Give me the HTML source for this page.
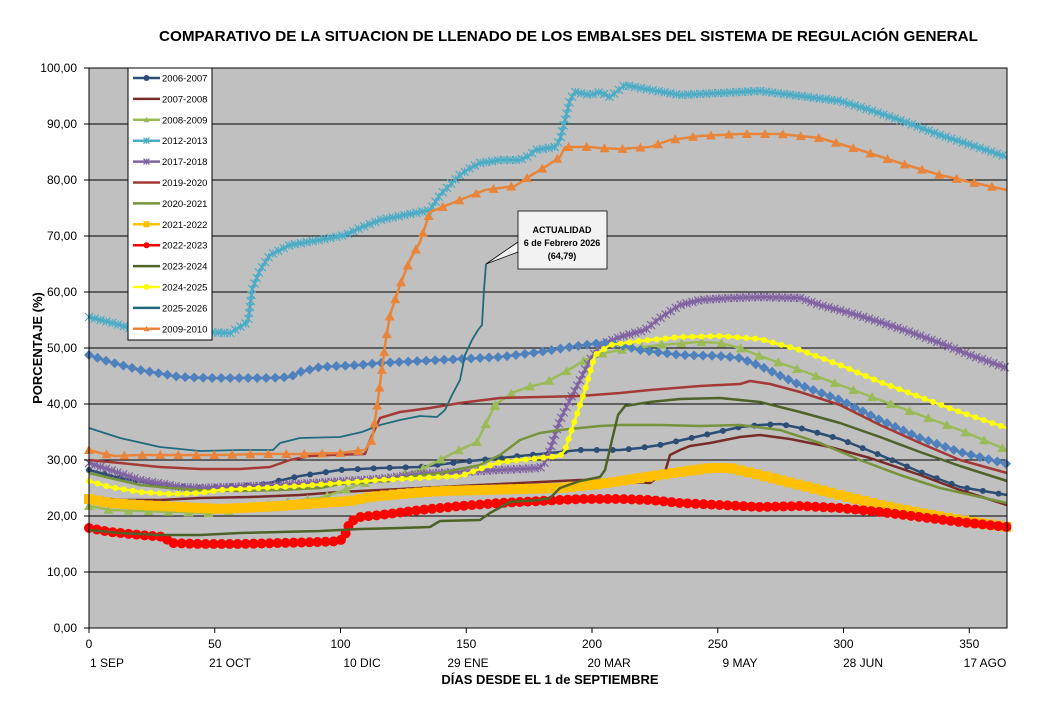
<!DOCTYPE html>
<html><head><meta charset="utf-8"><style>
body{margin:0;background:#fff;}
svg{display:block;font-family:"Liberation Sans",Arial,sans-serif;}
</style></head><body>
<svg id="s" width="1047" height="710" viewBox="0 0 1047 710" xmlns="http://www.w3.org/2000/svg">
<rect x="0" y="0" width="1047" height="710" fill="#fff"/>
<text x="159" y="41" font-size="15" font-weight="bold" textLength="819" lengthAdjust="spacingAndGlyphs">COMPARATIVO DE LA SITUACION DE LLENADO DE LOS EMBALSES DEL SISTEMA DE REGULACIÓN GENERAL</text>
<rect x="89" y="68" width="918" height="560" fill="#C0C0C0"/>
<g id="grid" stroke="#000" stroke-width="1"></g>
<g id="ser"></g>
<rect x="89" y="68" width="918" height="560" fill="none" stroke="#000" stroke-width="1"/>
<g id="ticks" font-size="12" fill="#000"></g>
<text transform="translate(42,348) rotate(-90)" text-anchor="middle" font-size="13" font-weight="bold">PORCENTAJE (%)</text>
<text x="550" y="684" text-anchor="middle" font-size="13" font-weight="bold">DÍAS DESDE EL 1 de SEPTIEMBRE</text>
<g id="leg"></g>
<polygon points="486,264 518,252 518,242" fill="#f2f2f2" stroke="#000" stroke-width="0.8"/>
<rect x="518" y="211" width="89" height="58" fill="#f2f2f2" stroke="#000" stroke-width="0.8"/>
<text x="562" y="233" text-anchor="middle" font-size="9" font-weight="bold">ACTUALIDAD</text>
<text x="562" y="246" text-anchor="middle" font-size="9" font-weight="bold">6 de Febrero 2026</text>
<text x="562" y="259" text-anchor="middle" font-size="9" font-weight="bold">(64,79)</text>
</svg>
<script>
const NS="http://www.w3.org/2000/svg";
function el(t,a,p){const e=document.createElementNS(NS,t);for(const k in a)e.setAttribute(k,a[k]);p.appendChild(e);return e;}
const grid=document.getElementById('grid'),ticks=document.getElementById('ticks');
for(let i=0;i<=10;i++){const y=628-56*i;el('line',{x1:89,x2:1007,y1:y,y2:y},grid);el('line',{x1:84,x2:89,y1:y,y2:y,stroke:'#000'},ticks);
const t=el('text',{x:77,y:y+4,'text-anchor':'end'},ticks);t.textContent=(i*10).toFixed(2).replace('.',',');}
const xd=["1 SEP","21 OCT","10 DIC","29 ENE","20 MAR","9 MAY","28 JUN","17 AGO"];
const xdp=[107,230,362,468,609,740,863,985];
for(let i=0;i<8;i++){const x=89+i*50*918/365;el('line',{x1:x,x2:x,y1:628,y2:633,stroke:'#000'},ticks);
let t=el('text',{x:x,y:648,'text-anchor':'middle'},ticks);t.textContent=i*50;
t=el('text',{x:xdp[i],y:667,'text-anchor':'middle'},ticks);t.textContent=xd[i];}
function P(s){return s.trim().split(/\)\s*,?\s*\(/).map(q=>q.replace(/[()]/g,'').split(',').map(Number));}
const S=[
["2006-2007","#2C4D75",2.5,"dot",3,"(89,470),(120,478),(160,485),(200,488),(260,485),(300,476),(340,470),(380,468),(420,467),(460,462),(500,458),(540,454),(580,450),(620,450),(640,448),(660,445),(700,436),(740,427),(760,425),(780,424),(800,428),(840,439),(880,455),(920,472),(960,487),(1007,495)",16],
["2007-2008","#772C2A",2.5,null,0,"(89,497),(120,500),(160,500),(200,498),(250,497),(300,495),(340,492),(380,490),(420,488),(460,486),(500,484),(540,482),(580,480),(620,481),(650,483),(660,476),(665,472),(670,455),(680,450),(690,446),(710,443),(740,437),(760,435),(790,439),(830,447),(870,458),(920,475),(960,490),(1007,505)",0],
["2008-2009","#9BBB59",2.5,"tri",5,"(89,506),(110,510),(140,511),(180,512),(210,513),(240,510),(280,503),(320,498),(345,490),(360,484),(390,478),(420,470),(440,460),(455,452),(477,442),(495,405)",20],
["2008b","#9BBB59",2.5,"tri",5,"(495,405),(512,393),(528,387),(545,383),(565,372),(585,360),(600,354),(620,350),(660,345),(700,342),(720,343),(740,348),(760,356),(800,370),(840,385),(880,400),(920,415),(960,430),(1007,450)",20],
["2012-2013","#4BACC6",2.5,"x",4,"(89,317),(120,325),(150,335),(180,333),(200,332),(230,333),(248,322),(252,290),(260,270),(270,255),(290,245),(320,240),(345,235),(360,228),(380,220),(420,212),(430,210),(440,195),(450,185),(460,175),(470,168),(480,163),(500,160),(520,160),(530,155),(535,150),(555,147),(560,140),(565,120),(570,100),(575,92),(590,95),(600,92),(610,97),(625,85),(640,88),(680,95),(720,93),(760,91),(800,96),(840,101),(870,110),(900,120),(940,135),(980,148),(1007,157)",6],
["2017-2018","#8064A2",2.5,"x",4,"(89,463),(110,470),(140,480),(180,487),(200,488),(230,487),(280,485),(330,482),(380,479),(420,474),(460,472),(500,470),(540,468),(545,462),(550,450),(560,420),(570,400),(580,380),(590,360),(600,345),(620,337),(645,330),(660,318),(680,305),(700,300),(730,298),(760,297),(800,298),(820,305),(850,313),(880,322),(910,332),(940,343),(970,355),(1007,368)",6],
["blue","#4F81BD",2.5,"dia",5,"(89,355),(110,362),(140,370),(180,377),(210,378),(240,378),(270,378),(290,377),(300,372),(320,367),(340,366),(360,365),(380,363),(420,361),(460,359),(500,357),(540,352),(570,347),(600,343),(620,345),(640,350),(680,355),(720,356),(740,358),(760,366),(800,385),(840,400),(880,420),(920,438),(960,452),(1007,464)",9],
["2019-2020","#A33A37",2.5,null,0,"(89,460),(120,463),(160,467),(200,469),(240,469),(270,467),(290,460),(310,456),(330,455),(365,454),(370,440),(380,418),(400,412),(430,408),(460,403),(500,398),(540,397),(580,396),(620,393),(650,390),(700,386),(740,384),(750,381),(770,384),(800,392),(840,405),(880,425),(920,443),(960,460),(1007,473)",0],
["2020-2021","#77933C",2.5,null,0,"(89,473),(110,478),(140,485),(170,488),(200,490),(240,491),(280,490),(320,488),(340,484),(370,482),(400,478),(440,473),(480,465),(500,455),(520,440),(540,433),(560,430),(580,428),(600,426),(620,425),(660,425),(700,426),(740,425),(780,430),(820,443),(860,460),(900,475),(940,488),(980,497),(1007,503)",0],
["2021-2022","#FFC000",2.5,"sq",5,"(89,499),(110,503),(140,505),(180,507),(220,509),(240,508),(280,506),(320,503),(350,501),(370,497),(400,494),(440,491),(480,490),(520,489),(560,488),(600,484),(640,478),(680,472),(710,468),(730,468),(760,475),(800,485),(840,495),(880,505),(920,513),(960,520),(1007,527)",8.5],
["2022-2023","#FF0000",2.5,"dot",5,"(89,528),(110,532),(140,535),(165,537),(170,543),(200,544),(240,544),(280,543),(320,542),(340,541),(345,535),(350,522),(360,517),(380,515),(420,510),(460,506),(500,503),(540,501),(580,499),(620,499),(650,500),(680,503),(720,505),(760,507),(800,506),(840,508),(880,512),(920,517),(960,522),(1007,527)",8],
["2023-2024","#4F6228",2.5,null,0,"(89,530),(120,533),(160,535),(200,535),(240,533),(280,532),(320,531),(360,529),(400,528),(430,527),(440,521),(480,520),(490,513),(510,502),(540,500),(550,498),(560,488),(580,481),(600,477),(605,470),(612,440),(618,415),(625,406),(650,402),(680,399),(720,398),(760,402),(800,412),(840,423),(880,437),(920,452),(960,466),(1007,481)",0],
["2024-2025","#FFFF00",2.5,"dot",3,"(89,481),(110,487),(140,492),(170,494),(200,493),(220,490),(240,489),(300,486),(340,483),(380,480),(420,478),(460,476),(480,469),(500,462),(540,458),(560,456),(565,450),(575,420),(585,390),(595,355),(610,345),(640,341),(680,337),(720,336),(760,339),(800,350),(840,365),(880,382),(920,397),(960,412),(1007,428)",9],
["2025-2026","#1F6A7B",1.8,null,0,"(89,428),(120,438),(160,447),(200,451),(240,450),(273,450),(280,443),(300,438),(340,437),(362,432),(380,425),(400,420),(420,416),(437,417),(445,410),(452,395),(460,380),(465,355),(472,340),(478,330),(482,325),(484,290),(486,264)",0],
["2009-2010","#E8853A",2.5,"tri",5,"(89,450),(100,453),(115,456),(140,455),(180,455),(220,455),(260,454),(300,454),(340,453),(365,450),(372,440),(378,400),(385,345),(390,315),(400,285),(410,260),(420,242),(430,212),(440,208),(460,200),(485,190),(515,186),(530,176),(545,167),(560,157),(565,147),(590,147),(600,148),(620,149),(650,147),(670,140),(700,136),(740,134),(780,134),(820,138),(860,150),(900,163),(940,175),(970,182),(1007,190)",18]
];
function marker(g,type,x,y,r,c){
 if(type=="dot")el('circle',{cx:x,cy:y,r:r,fill:c},g);
 else if(type=="sq")el('rect',{x:x-r,y:y-r,width:2*r,height:2*r,fill:c},g);
 else if(type=="tri")el('polygon',{points:`${x},${y-r} ${x-r},${y+r*0.8} ${x+r},${y+r*0.8}`,fill:c},g);
 else if(type=="dia")el('polygon',{points:`${x},${y-r} ${x+r},${y} ${x},${y+r} ${x-r},${y}`,fill:c},g);
 else if(type=="x"){el('path',{d:`M${x-r} ${y-r}L${x+r} ${y+r}M${x-r} ${y+r}L${x+r} ${y-r}M${x} ${y-r}L${x} ${y+r}`,stroke:c,'stroke-width':1.2},g);}
}
const ser=document.getElementById('ser');
S.forEach(s=>{const pts=P(s[5]);
 el('polyline',{points:pts.map(p=>p.join(',')).join(' '),fill:'none',stroke:s[1],'stroke-width':s[2],'stroke-linejoin':'round'},ser);
 if(s[3]&&s[6]){let acc=0,next=0;for(let i=0;i<pts.length-1;i++){const[a,b]=pts[i],[c,d]=pts[i+1];const L=Math.hypot(c-a,d-b);
  while(next<=acc+L){const t=(next-acc)/L;marker(ser,s[3],a+(c-a)*t,b+(d-b)*t,s[4],s[1]);next+=s[6];}acc+=L;}}
});
const leg=document.getElementById('leg');
el('rect',{x:128,y:68,width:84,height:272,fill:'#fff',stroke:'#000','stroke-width':1},leg);
const L=S.filter(s=>!["2008b","blue"].includes(s[0]));
L.forEach((s,i)=>{const y=78+i*20.9;el('line',{x1:133,x2:160,y1:y,y2:y,stroke:s[1],'stroke-width':2.5},leg);
 if(s[3])marker(leg,s[3],146.5,y,Math.min(s[4],3),s[1]);
 const t=el('text',{x:162,y:y+3.5,'font-size':'9.5'},leg);t.textContent=s[0];});
</script>
</body></html>
